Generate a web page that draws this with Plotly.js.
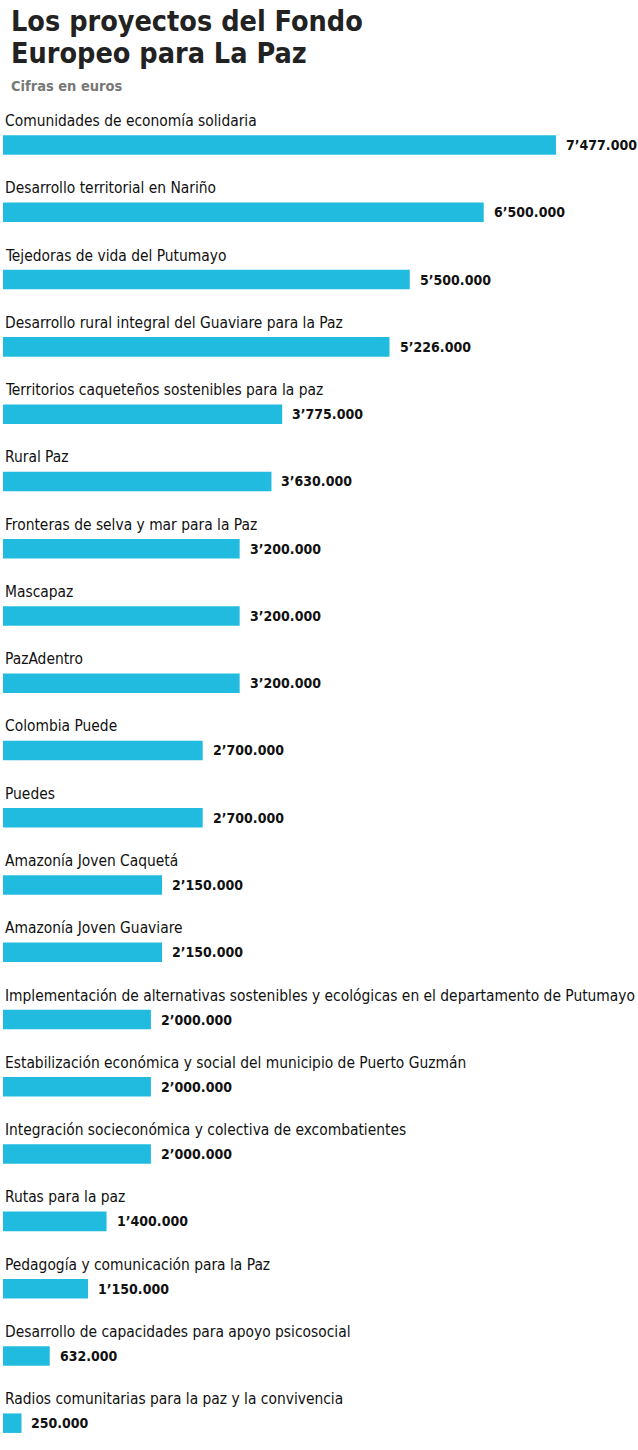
<!DOCTYPE html>
<html>
<head>
<meta charset="utf-8">
<script src="https://cdn.plot.ly/plotly-3.0.1.min.js"></script>
<style>
  body { margin: 0; background: #fff; }
  #chart { width: 638px; height: 1450px; }
</style>
</head>
<body>
<div id="chart"></div>
<script>
// Proyectos y montos (euros)
var proyectos = [
    'Comunidades de economía solidaria',
    'Desarrollo territorial en Nariño',
    'Tejedoras de vida del Putumayo',
    'Desarrollo rural integral del Guaviare para la Paz',
    'Territorios caqueteños sostenibles para la paz',
    'Rural Paz',
    'Fronteras de selva y mar para la Paz',
    'Mascapaz',
    'PazAdentro',
    'Colombia Puede',
    'Puedes',
    'Amazonía Joven Caquetá',
    'Amazonía Joven Guaviare',
    'Implementación de alternativas sostenibles y ecológicas en el departamento de Putumayo',
    'Estabilización económica y social del municipio de Puerto Guzmán',
    'Integración socieconómica y colectiva de excombatientes',
    'Rutas para la paz',
    'Pedagogía y comunicación para la Paz',
    'Desarrollo de capacidades para apoyo psicosocial',
    'Radios comunitarias para la paz y la convivencia'
];
var montos = [7477000, 6500000, 5500000, 5226000, 3775000, 3630000, 3200000, 3200000, 3200000,
    2700000, 2700000, 2150000, 2150000, 2000000, 2000000, 2000000, 1400000, 1150000, 632000, 250000];
var etiquetas = ['7’477.000', '6’500.000', '5’500.000', '5’226.000', '3’775.000', '3’630.000',
    '3’200.000', '3’200.000', '3’200.000', '2’700.000', '2’700.000', '2’150.000', '2’150.000',
    '2’000.000', '2’000.000', '2’000.000', '1’400.000', '1’150.000', '632.000', '250.000'];
var titulo = ['Los proyectos del Fondo', 'Europeo para La Paz'];

var fuente = '"DejaVu Sans Condensed", "Liberation Sans Narrow", "Roboto", sans-serif';

var trace = {
    type: 'bar',
    orientation: 'h',
    x: montos,
    y: proyectos,
    marker: { color: '#21bbe0' },
    width: 0.29,
    hoverinfo: 'skip'
};

// Nombre encima de cada barra y cifra a la derecha
var anotaciones = [];
proyectos.forEach(function (p, i) {
    anotaciones.push({
        xref: 'paper', yref: 'y',
        x: 0, y: p,
        xanchor: 'left', yanchor: 'middle',
        xshift: 0, yshift: 24,
        text: p, showarrow: false,
        font: { family: fuente, size: 15.4, color: '#111' }
    });
    anotaciones.push({
        xref: 'x', yref: 'y',
        x: montos[i], y: p,
        xanchor: 'left', yanchor: 'middle',
        xshift: 8, yshift: 0,
        text: '<b>' + etiquetas[i] + '</b>', showarrow: false,
        font: { family: fuente, size: 14, color: '#111' }
    });
});

// Titulo (dos lineas) y subtitulo
function yPaper(px) { return (1440 - px) / 1340; }
anotaciones.push({
    xref: 'paper', yref: 'paper',
    x: 0, y: yPaper(22), xanchor: 'left', yanchor: 'middle', xshift: 6,
    text: '<b>' + titulo[0] + '</b>', showarrow: false,
    font: { family: fuente, size: 28.5, color: '#222' }
});
anotaciones.push({
    xref: 'paper', yref: 'paper',
    x: 0, y: yPaper(54), xanchor: 'left', yanchor: 'middle', xshift: 6,
    text: '<b>' + titulo[1] + '</b>', showarrow: false,
    font: { family: fuente, size: 28.5, color: '#222' }
});
anotaciones.push({
    xref: 'paper', yref: 'paper',
    x: 0, y: yPaper(86), xanchor: 'left', yanchor: 'middle', xshift: 6,
    text: '<b>Cifras en euros</b>', showarrow: false,
    font: { family: fuente, size: 14.5, color: '#777' }
});

var layout = {
    width: 638,
    height: 1450,
    margin: { l: 3, r: 0, t: 100, b: 10 },
    xaxis: {
        range: [0, 8586000],
        visible: false,
        fixedrange: true
    },
    yaxis: {
        type: 'category',
        range: [19.25, -0.67],
        visible: false,
        fixedrange: true
    },
    annotations: anotaciones,
    showlegend: false,
    plot_bgcolor: '#fff',
    paper_bgcolor: '#fff'
};

Plotly.newPlot('chart', [trace], layout, { displayModeBar: false, staticPlot: true });
</script>
</body>
</html>
